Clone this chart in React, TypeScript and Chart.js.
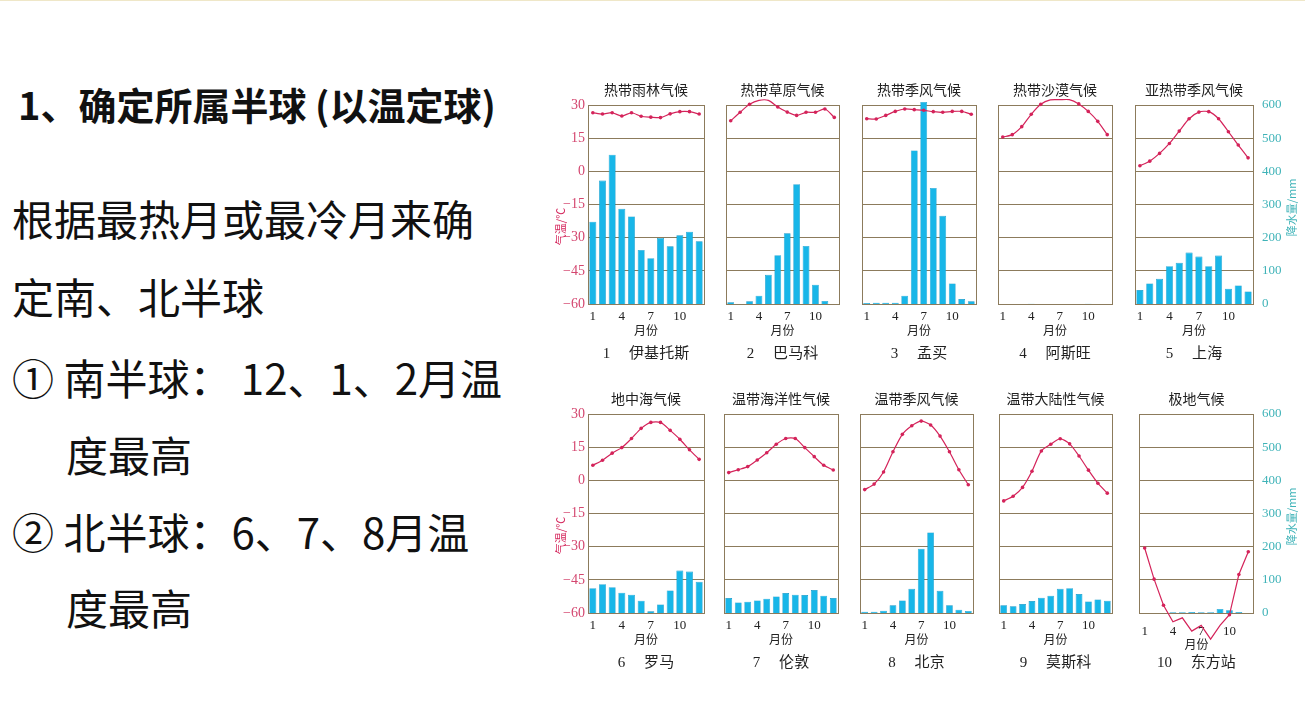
import React, { useEffect, useRef } from "react";
import { Chart, registerables } from "chart.js";

Chart.register(...registerables);

// ---------- data ----------
const months = ["1", "2", "3", "4", "5", "6", "7", "8", "9", "10", "11", "12"];
const shownMonths = ["1", "4", "7", "10"];
const tempMin = -60;
const tempMax = 30;
const tempStep = 15;
const precipMin = 0;
const precipMax = 600;
const precipStep = 100;

const climateTitles = [
  "热带雨林气候", "热带草原气候", "热带季风气候", "热带沙漠气候", "亚热带季风气候",
  "地中海气候", "温带海洋性气候", "温带季风气候", "温带大陆性气候", "极地气候",
];
const stationNames = [
  "1\u3000 伊基托斯", "2\u3000 巴马科", "3\u3000 孟买", "4\u3000 阿斯旺", "5\u3000 上海",
  "6\u3000 罗马", "7\u3000 伦敦", "8\u3000 北京", "9\u3000 莫斯科", "10\u3000 东方站",
];

const iquitosTemp = [26.5, 25.9, 26.5, 25.0, 26.5, 24.9, 24.5, 24.3, 26.0, 27.0, 27.0, 25.9];
const iquitosPrecip = [248, 372, 450, 287, 264, 163, 138, 199, 174, 207, 218, 189];
const bamakoTemp = [22.9, 26.7, 30.3, 32.1, 32.1, 29.1, 26.8, 25.3, 26.7, 26.7, 28.2, 24.4];
const bamakoPrecip = [5, 0, 8, 25, 88, 147, 213, 361, 175, 58, 9, 0];
const mumbaiTemp = [23.8, 23.7, 25.3, 27.1, 28.2, 27.9, 27.6, 27.0, 26.7, 27.1, 27.1, 25.8];
const mumbaiPrecip = [3, 4, 4, 4, 25, 463, 609, 350, 266, 62, 15, 8];
const aswanTemp = [15.5, 16.6, 20.2, 25.8, 30.3, 32.3, 32.4, 32.4, 30.5, 27.1, 22.6, 16.6];
const aswanPrecip = [0, 0, 0, 1, 0, 0, 0, 0, 0, 1, 0, 0];
const shanghaiTemp = [2.5, 4.6, 8.1, 12.6, 18.2, 23.8, 26.8, 27.0, 23.8, 17.9, 11.9, 6.1];
const shanghaiPrecip = [42, 62, 76, 114, 124, 155, 143, 114, 146, 46, 56, 38];
const romeTemp = [6.8, 9.1, 12.3, 14.8, 18.9, 23.5, 26.2, 26.2, 22.6, 18.6, 13.8, 9.5];
const romePrecip = [75, 87, 78, 61, 55, 37, 5, 26, 68, 128, 125, 94];
const londonTemp = [3.5, 4.8, 6.2, 9.2, 12.5, 16.3, 18.9, 18.9, 14.8, 10.7, 6.8, 4.7];
const londonPrecip = [45, 32, 34, 38, 43, 50, 60, 55, 54, 69, 52, 45];
const beijingTemp = [-4.2, -1.7, 3.8, 12.9, 20.8, 24.7, 26.8, 25.0, 20.0, 12.9, 4.8, -2.0];
const beijingPrecip = [4, 4, 7, 23, 38, 73, 194, 243, 67, 23, 10, 6];
const moscowTemp = [-9.3, -7.2, -3.2, 4.1, 13.3, 16.3, 18.8, 16.5, 11.0, 4.6, -1.3, -5.8];
const moscowPrecip = [23, 20, 27, 36, 46, 52, 73, 75, 57, 35, 41, 37];
const vostokTemp = [-30.6, -44.7, -56.5, -64.0, -62.2, -68.2, -65.6, -71.8, -65.6, -60.8, -42.6, -32.3];
const vostokPrecip = [0, 0, 0, 2, 2, 3, 2, 2, 12, 8, 3, 0];

const tempSeries = [iquitosTemp, bamakoTemp, mumbaiTemp, aswanTemp, shanghaiTemp, romeTemp, londonTemp, beijingTemp, moscowTemp, vostokTemp];
const precipSeries = [iquitosPrecip, bamakoPrecip, mumbaiPrecip, aswanPrecip, shanghaiPrecip, romePrecip, londonPrecip, beijingPrecip, moscowPrecip, vostokPrecip];

// ---------- layout / style ----------
const plotBoxes = [
  { l: 588, r: 705, t: 104, b: 303 },
  { l: 725, r: 840, t: 104, b: 303 },
  { l: 861, r: 977, t: 104, b: 303 },
  { l: 997, r: 1113, t: 104, b: 303 },
  { l: 1134, r: 1253, t: 104, b: 303 },
  { l: 588, r: 705, t: 413, b: 612 },
  { l: 723, r: 839, t: 413, b: 612 },
  { l: 859, r: 974, t: 413, b: 612 },
  { l: 998, r: 1113, t: 413, b: 612 },
  { l: 1133, r: 1253, t: 413, b: 612 },
];

const GRID = "#8c7b5c";
const RED = "#d4235a";
const PINK_TICK = "#d4466f";
const TEAL = "#3fb3b8";
const BAR = "#18b6e8";
const BAR_EDGE = "#0a92c4";
const SERIF = "'Liberation Serif', 'Noto Sans CJK SC', serif";

const rotatedTitles = {
  id: "rotatedTitles",
  afterDraw(chart: any, _args: any, opts: any) {
    const items = (opts && opts.items) || [];
    const ctx = chart.ctx;
    const ca = chart.chartArea;
    for (const it of items) {
      ctx.save();
      const x = it.side === "left" ? ca.left + it.dx : ca.right + it.dx;
      const y = (ca.top + ca.bottom) / 2 + it.dy;
      ctx.translate(x, y);
      ctx.rotate(-Math.PI / 2);
      ctx.fillStyle = it.color;
      ctx.font = it.font;
      ctx.textAlign = "center";
      ctx.textBaseline = "middle";
      ctx.fillText(it.text, 0, 0);
      ctx.restore();
    }
  },
};

function ClimateChart({ idx }: { idx: number }) {
  const ref = useRef<HTMLCanvasElement | null>(null);
  const box = plotBoxes[idx];
  const showLeft = idx === 0 || idx === 5;
  const showRight = idx === 4 || idx === 9;
  const isPolar = idx === 9;
  const leftW = showLeft ? 36 : 3;
  const rightW = showRight ? 52 : 3;
  const width = leftW + (box.r - box.l) + rightW;
  const height = 290;
  const left = box.l - leftW;
  const top = box.t - 29;
  const xAxisH = isPolar ? 39 : 33.2;
  const subTop = isPolar ? 2 : 7.8;

  useEffect(() => {
    if (!ref.current) return;
    const items: any[] = [];
    if (showLeft) items.push({ side: "left", dx: -27, dy: 22, text: "气温/℃", color: RED, font: "11px 'Noto Sans CJK SC', sans-serif" });
    if (showRight) items.push({ side: "right", dx: 39, dy: 3, text: "降水量/mm", color: TEAL, font: "11px 'Noto Sans CJK SC', sans-serif" });

    const chart = new Chart(ref.current, {
      type: "bar",
      data: {
        labels: months,
        datasets: [
          {
            type: "line",
            data: tempSeries[idx],
            yAxisID: "y",
            borderColor: RED,
            backgroundColor: RED,
            borderWidth: 1.2,
            pointRadius: 1.8,
            pointBorderWidth: 0,
            pointBackgroundColor: RED,
            tension: isPolar ? 0 : 0.25,
            clip: false,
            order: 0,
          } as any,
          {
            type: "bar",
            data: precipSeries[idx],
            yAxisID: "y1",
            backgroundColor: BAR,
            borderColor: BAR_EDGE,
            borderWidth: 0.6,
            barPercentage: 0.72,
            categoryPercentage: 1,
            clip: false,
            order: 1,
          } as any,
        ],
      },
      options: {
        responsive: false,
        animation: false,
        devicePixelRatio: 1,
        layout: { padding: 0 },
        plugins: {
          legend: { display: false },
          tooltip: { enabled: false },
          title: {
            display: true,
            text: climateTitles[idx],
            fullSize: false,
            color: "#222",
            font: { size: 14, family: "'Noto Sans CJK SC', sans-serif", weight: "normal", lineHeight: 1.2 },
            padding: { top: 5, bottom: 7.2 },
          },
          subtitle: {
            display: true,
            position: "bottom",
            text: stationNames[idx],
            fullSize: false,
            color: "#222",
            font: { size: 15, family: SERIF, weight: "normal", lineHeight: 1.2 },
            padding: { top: subTop, bottom: 3 },
          },
          rotatedTitles: { items },
        } as any,
        scales: {
          x: {
            type: "category",
            grid: { display: false, drawTicks: false },
            border: { display: true, color: GRID, width: 1 },
            ticks: {
              autoSkip: false,
              maxRotation: 0,
              padding: isPolar ? 11 : 5,
              color: "#222",
              font: { size: 13, family: SERIF },
              callback: function (this: any, value: any) {
                const lab = this.getLabelForValue(value);
                return shownMonths.includes(lab) ? lab : "";
              },
            },
            title: {
              display: true,
              text: "月份",
              color: "#222",
              font: { size: 12, family: "'Noto Sans CJK SC', sans-serif", lineHeight: 1.2 },
              padding: { top: 0, bottom: 0 },
            },
            afterFit: (s: any) => { s.height = xAxisH; },
          },
          y: {
            position: "left",
            min: tempMin,
            max: tempMax,
            z: 1,
            grid: { display: true, color: GRID, lineWidth: 1, drawTicks: false },
            border: { display: true, color: GRID, width: 1 },
            ticks: {
              display: showLeft,
              stepSize: tempStep,
              padding: 3,
              color: PINK_TICK,
              font: { size: 14, family: SERIF },
              callback: (v: any) => String(v).replace("-", "\u2212"),
            },
            afterFit: (s: any) => { s.width = leftW; },
          },
          y1: {
            position: "right",
            min: precipMin,
            max: precipMax,
            grid: { display: false, drawTicks: false },
            border: { display: true, color: GRID, width: 1 },
            ticks: {
              display: showRight,
              stepSize: precipStep,
              padding: 9,
              color: TEAL,
              font: { size: 13, family: SERIF },
            },
            afterFit: (s: any) => { s.width = rightW; },
          },
        },
      } as any,
      plugins: [rotatedTitles as any],
    });
    return () => chart.destroy();
  }, []);

  return (
    <canvas
      ref={ref}
      width={width}
      height={height}
      style={{ position: "absolute", left, top, width, height }}
    />
  );
}

const CJK = "'Noto Sans CJK SC', 'Noto Sans', sans-serif";

const bodyLines = [
  { text: "根据最热月或最冷月来确", x: 12, cy: 219 },
  { text: "定南、北半球", x: 12, cy: 297 },
  { text: "① 南半球： 12、1、2月温", x: 12, cy: 378 },
  { text: "度最高", x: 66, cy: 455 },
  { text: "② 北半球：6、7、8月温", x: 12, cy: 532 },
  { text: "度最高", x: 66, cy: 608 },
];

export default function App() {
  return (
    <div
      style={{
        position: "absolute",
        left: 0,
        top: 0,
        width: 1305,
        height: 710,
        background: "#ffffff",
        overflow: "hidden",
        boxSizing: "border-box",
        borderTop: "1px solid #efe7c8",
      }}
    >
      <div
        style={{
          position: "absolute",
          left: 18,
          top: 84,
          fontFamily: CJK,
          fontWeight: 700,
          fontSize: 38,
          lineHeight: "38px",
          color: "#111",
          whiteSpace: "nowrap",
        }}
      >
        1、确定所属半球 (以温定球)
      </div>
      {bodyLines.map((ln, i) => (
        <div
          key={i}
          style={{
            position: "absolute",
            left: ln.x,
            top: ln.cy - 23,
            fontFamily: CJK,
            fontSize: 42,
            lineHeight: "42px",
            color: "#111",
            whiteSpace: "nowrap",
          }}
        >
          {ln.text}
        </div>
      ))}
      {plotBoxes.map((_, i) => (
        <ClimateChart key={i} idx={i} />
      ))}
    </div>
  );
}
